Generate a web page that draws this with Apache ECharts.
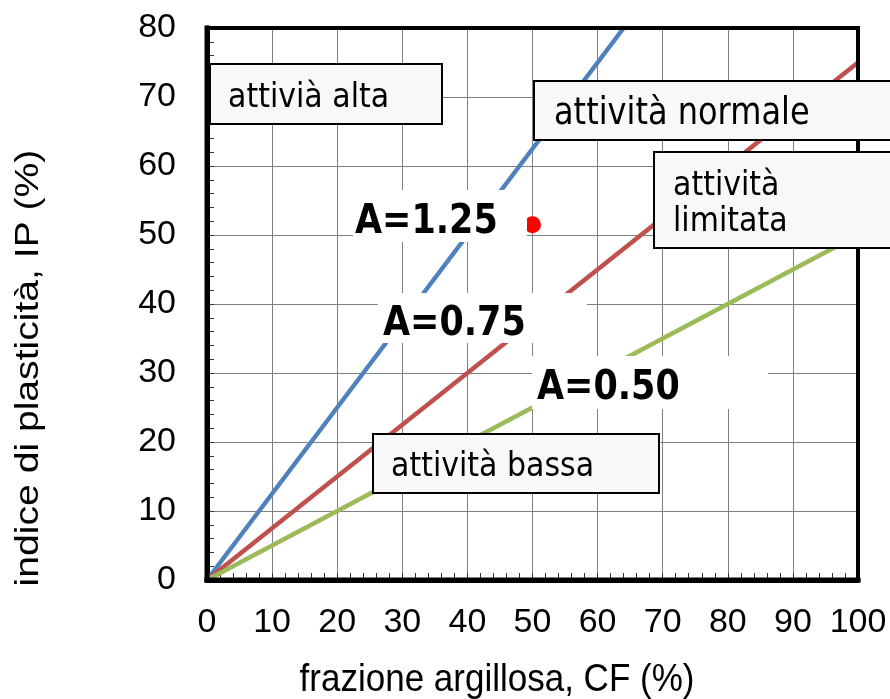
<!DOCTYPE html>
<html>
<head>
<meta charset="utf-8">
<script src="https://cdn.jsdelivr.net/npm/echarts@6/dist/echarts.min.js"></script>
<style>
html,body{margin:0;padding:0;background:#fff;}
#chart{width:890px;height:699px;}
</style>
</head>
<body>
<div id="chart"></div>
<script>
// ---- data ----
var xTitle = 'frazione argillosa, CF (%)';
var yTitle = 'indice di plasticità, IP (%)';
var xTicks = [0, 10, 20, 30, 40, 50, 60, 70, 80, 90, 100];
var yTicks = [0, 10, 20, 30, 40, 50, 60, 70, 80];
var lineA125 = [[0, 0], [64, 80]];
var lineA075 = [[0, 0], [100, 75]];
var lineA050 = [[0, 0], [100, 50]];
var samplePoint = [[50, 51.5]];
var activityLabels = ['A=1.25', 'A=0.75', 'A=0.50'];
var zoneLabels = ['attivià alta', 'attività normale', 'attività\nlimitata', 'attività bassa'];

var chart = echarts.init(document.getElementById('chart'));

var SY = 1.15; // vertical stretch of the reference lettering
var G = {left: 207, right: 32, top: 28, bottom: 119};
var W = 890, H = 699;
var gx0 = G.left, gx1 = W - G.right, gy0 = G.top, gy1 = H - G.bottom;

function box(x, y, w, h, fill, stroke) {
  return {type: 'rect', z: 50, shape: {x: x, y: y, width: w, height: h},
    style: {fill: fill, stroke: stroke, lineWidth: stroke ? 2 : 0}};
}
function txt(str, x, y, font, extra) {
  var s = {text: str, x: 0, y: 0, font: font, fill: '#000', align: 'left', verticalAlign: 'middle'};
  if (extra) for (var k in extra) s[k] = extra[k];
  return {type: 'text', z: 51, x: x, y: y, scaleY: SY, style: s};
}
function frameLine(x1, y1, x2, y2, w) {
  return {type: 'line', z: 40, silent: true, shape: {x1: x1, y1: y1, x2: x2, y2: y2},
    style: {stroke: '#000', lineWidth: w, lineCap: 'square'}};
}

var zoneFont = '30px "DejaVu Sans"';
var aFont = 'bold 35px "DejaVu Sans"';
var labelFont = '"Liberation Sans", Arial';

var option = {
  animation: false,
  backgroundColor: '#fff',
  grid: {left: G.left, right: G.right, top: G.top, bottom: G.bottom, show: false},
  xAxis: {
    type: 'value', position: 'bottom', min: xTicks[0], max: xTicks[xTicks.length - 1], interval: 10,
    axisLine: {show: true, onZero: false, lineStyle: {color: '#000', width: 5}},
    axisTick: {show: true, inside: true, length: 7, lineStyle: {color: '#333', width: 1}},
    minorTick: {show: true, splitNumber: 5, length: 7, lineStyle: {color: '#333', width: 1}},
    splitLine: {show: true, lineStyle: {color: '#808080', width: 1}},
    axisLabel: {margin: 26, fontSize: 34, fontFamily: labelFont, color: '#000', showMaxLabel: true, showMinLabel: true}
  },
  yAxis: {
    type: 'value', position: 'left', min: yTicks[0], max: yTicks[yTicks.length - 1], interval: 10,
    axisLine: {show: true, onZero: false, lineStyle: {color: '#000', width: 5}},
    axisTick: {show: true, inside: true, length: 7, lineStyle: {color: '#333', width: 1}},
    minorTick: {show: true, splitNumber: 5, length: 7, lineStyle: {color: '#333', width: 1}},
    splitLine: {show: true, lineStyle: {color: '#808080', width: 1}},
    axisLabel: {margin: 31, fontSize: 34, fontFamily: labelFont, color: '#000'}
  },
  series: [
    {type: 'line', data: lineA125, symbol: 'none', lineStyle: {color: '#4F81BD', width: 4.5}, z: 3},
    {type: 'line', data: lineA075, symbol: 'none', lineStyle: {color: '#C0504D', width: 4.5}, z: 3},
    {type: 'line', data: lineA050, symbol: 'none', lineStyle: {color: '#9BBB59', width: 4.5}, z: 3},
    {type: 'scatter', data: samplePoint, symbol: 'circle', symbolSize: 17, itemStyle: {color: '#FF0000', opacity: 1}, z: 4}
  ],
  graphic: [
    // plot frame
    frameLine(gx0, gy0, gx1, gy0, 4),
    frameLine(gx1, gy0, gx1, gy1, 4),
    frameLine(gx0, gy0, gx0, gy1, 5),
    frameLine(gx0, gy1, gx1, gy1, 5),
    // activity labels on white background
    box(353, 190, 174, 52, '#fff', null),
    txt(activityLabels[0], 355, 223, aFont),
    box(378, 293, 209, 50, '#fff', null),
    txt(activityLabels[1], 383, 325, aFont),
    box(532, 356, 236, 53, '#fff', null),
    txt(activityLabels[2], 537, 389, aFont),
    // zone boxes
    box(210, 64, 232, 60, '#f8f8f8', '#000'),
    txt(zoneLabels[0], 228, 98, zoneFont),
    box(534, 81, 400, 59, '#f8f8f8', '#000'),
    txt(zoneLabels[1], 554, 114, '32px "DejaVu Sans"'),
    box(654, 152, 300, 96, '#f8f8f8', '#000'),
    txt(zoneLabels[2], 673, 204, zoneFont, {lineHeight: 32}),
    box(373, 434, 286, 59, '#f8f8f8', '#000'),
    txt(zoneLabels[3], 391, 467, zoneFont),
    // axis titles
    {type: 'text', z: 51, x: 497, y: 680, scaleY: 1.1, style: {text: xTitle, x: 0, y: 0, font: '35px ' + labelFont, fill: '#000', align: 'center', verticalAlign: 'middle'}},
    {type: 'text', z: 51, x: 29, y: 368, rotation: Math.PI / 2, scaleX: SY, style: {text: yTitle, x: 0, y: 0, font: '34px ' + labelFont, fill: '#000', align: 'center', verticalAlign: 'middle'}}
  ]
};
chart.setOption(option);
</script>
</body>
</html>
